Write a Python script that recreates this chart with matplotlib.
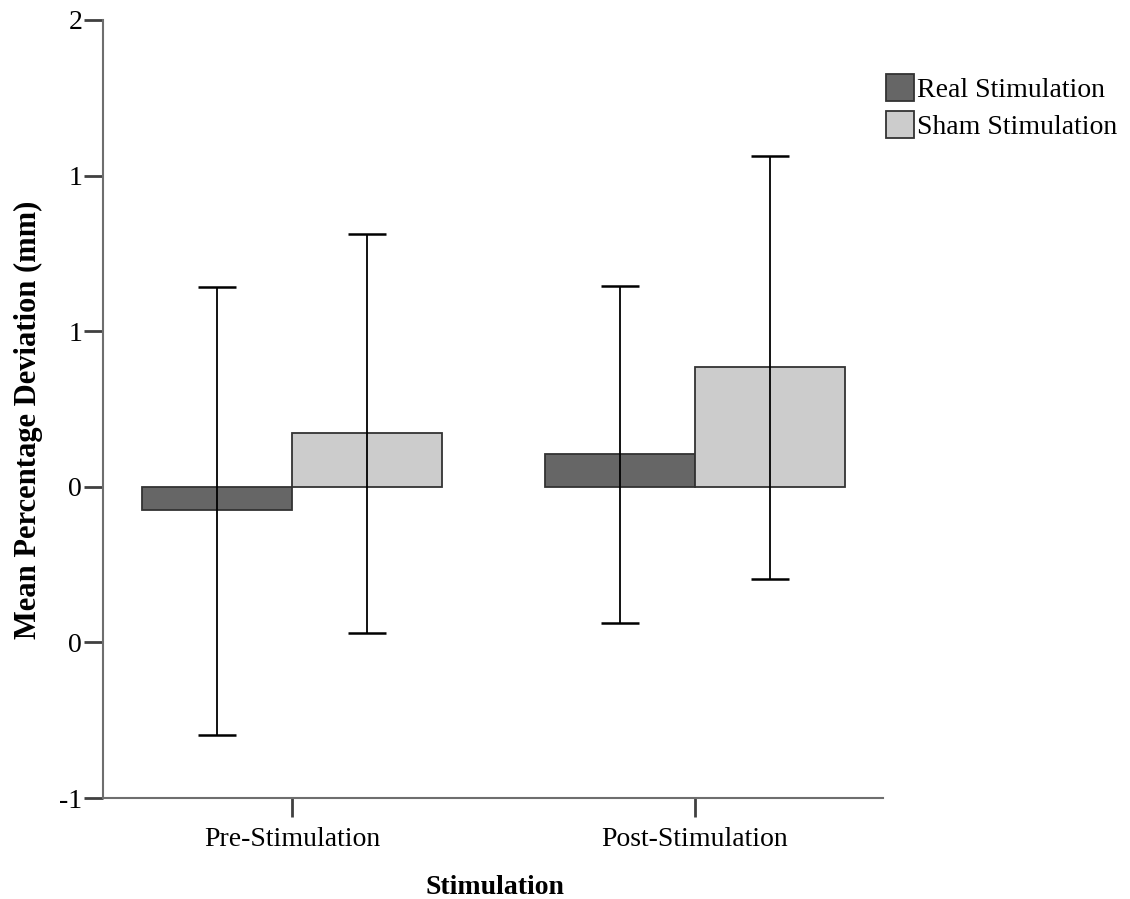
import matplotlib.pyplot as plt
import numpy as np

plt.rcParams['font.family'] = ['Liberation Serif', 'DejaVu Serif']

categories = ['Pre-Stimulation', 'Post-Stimulation']
series = ['Real Stimulation', 'Sham Stimulation']
means = {
    'Real Stimulation': [-0.074, 0.106],
    'Sham Stimulation': [0.174, 0.386],
}
err_upper = {
    'Real Stimulation': [0.643, 0.646],
    'Sham Stimulation': [0.813, 1.064],
}
err_lower = {
    'Real Stimulation': [-0.797, -0.437],
    'Sham Stimulation': [-0.469, -0.296],
}
colors = {'Real Stimulation': '#666666', 'Sham Stimulation': '#cccccc'}
yticks = [-1.0, -0.5, 0.0, 0.5, 1.0, 1.5]
ytick_labels = ['-1', '0', '0', '1', '1', '2']

W, H = 1130, 899
fig = plt.figure(figsize=(W / 100, H / 100), dpi=100)
ax = fig.add_axes([103 / W, 1 - 798 / H, 780 / W, 778 / H])

x = np.arange(len(categories))
w = 0.372
offs = [-w / 2, w / 2]
for s, o in zip(series, offs):
    m = np.array(means[s])
    lo = np.array(err_lower[s])
    hi = np.array(err_upper[s])
    ax.bar(x + o, m, width=w, color=colors[s], edgecolor='#333333',
           linewidth=1.3, label=s, zorder=2)
    ax.errorbar(x + o, m, yerr=[m - lo, hi - m], fmt='none', ecolor='black',
                elinewidth=1.3, capsize=13.5, capthick=1.8, zorder=3)

ax.set_xlim(-0.469, 1.4665)
ax.set_ylim(-1.0, 1.5)
ax.set_yticks(yticks)
ax.set_yticklabels(ytick_labels)
ax.set_xticks(x)
ax.set_xticklabels(categories)

for side in ['top', 'right']:
    ax.spines[side].set_visible(False)
for side in ['left', 'bottom']:
    ax.spines[side].set_color('#6e6e6e')
    ax.spines[side].set_linewidth(1.5)
ax.tick_params(axis='both', colors='#404040', length=14, width=2, labelsize=20,
               labelcolor='black')
ax.tick_params(axis='y', pad=1)
ax.tick_params(axis='x', pad=7)

# axis titles placed directly in figure pixels
fig.text(495 / W, 1 - 894 / H, 'Stimulation', fontsize=20, fontweight='bold',
         ha='center', va='baseline')
fig.text(28 / W, 1 - 420 / H, 'Mean Percentage Deviation (mm)', fontsize=22,
         fontweight='bold', rotation=90, ha='center', va='center')

fig.legend(loc='upper left', bbox_to_anchor=(886 / W, 1 - 74 / H),
           frameon=False, fontsize=20, handlelength=1.0, handleheight=1.1,
           handletextpad=0.12, labelspacing=0.3, borderaxespad=0,
           borderpad=0)

fig.savefig('out.png', dpi=100)
